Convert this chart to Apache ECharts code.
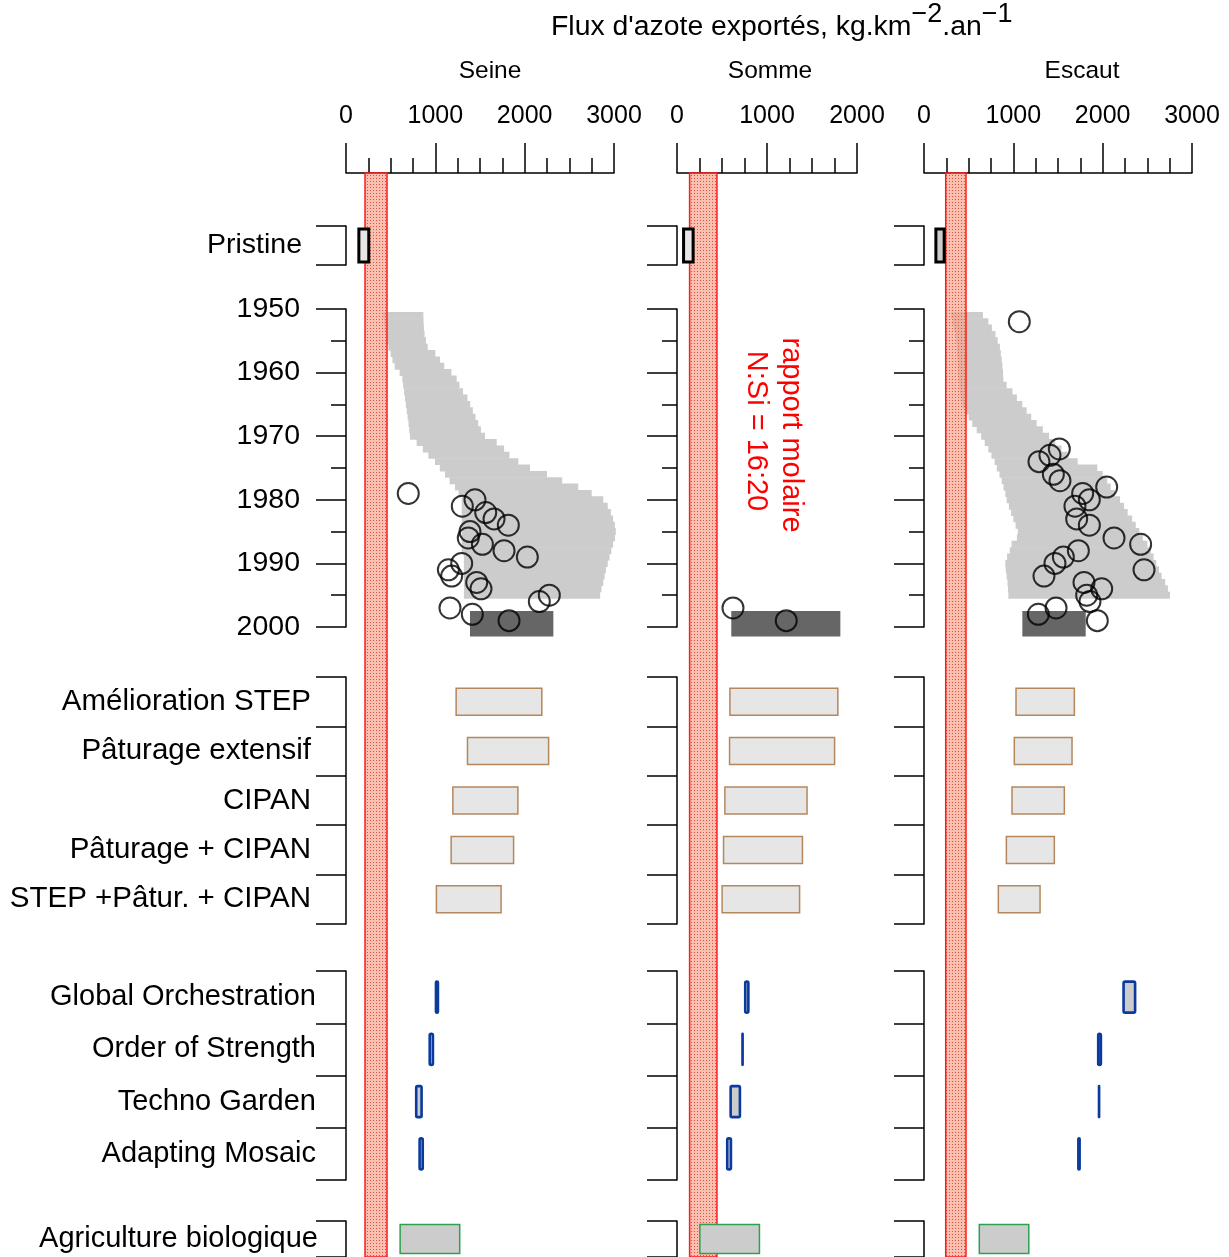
<!DOCTYPE html>
<html><head><meta charset="utf-8">
<script src="https://cdn.jsdelivr.net/npm/echarts@6/dist/echarts.min.js"></script>
<style>html,body{margin:0;padding:0;background:#fff}#c{width:1229px;height:1257px}</style>
</head><body><div id="c"></div><script>
const FONT = "'Liberation Sans', Arial, Helvetica, sans-serif";

// ---- categories / labels ----
const basinNames = ['Seine', 'Somme', 'Escaut'];
const pristineCats = ['Pristine'];
const scen1Cats = ['Amélioration STEP', 'Pâturage extensif', 'CIPAN', 'Pâturage + CIPAN', 'STEP +Pâtur. + CIPAN'];
const scen2Cats = ['Global Orchestration', 'Order of Strength', 'Techno Garden', 'Adapting Mosaic'];
const abCats = ['Agriculture biologique'];
const bandText1 = 'rapport molaire';
const bandText2 = 'N:Si = 16:20';

// ---- years of the modelled envelope ----
const areaYears = [1951,1952,1953,1954,1955,1956,1957,1958,1959,1960,1961,1962,1963,1964,1965,1966,1967,1968,1969,1970,
  1971,1972,1973,1974,1975,1976,1977,1978,1979,1980,1981,1982,1983,1984,1985,1986,1987,1988,1989,1990,1991,1992,1993,1994,1995];

// ---- Seine ----
const seinePristine = [144, 255];
const seineBand = [213, 459];
const seineAreaLo = [418,425,432,445,460,475,500,520,545,600,630,640,650,660,670,680,690,700,708,716,
  791,860,922,996,1050,1108,1160,1220,1260,1295,1295,1295,1295,1295,1295,1295,1295,1295,1320,1320,1320,1320,1320,1320,1320];
const seineAreaHi = [866,868,872,880,895,915,1000,1052,1100,1180,1239,1270,1310,1360,1390,1420,1450,1480,1510,1556,
  1687,1770,1830,1929,2060,2250,2420,2600,2750,2880,2930,2965,2990,3010,3020,3010,2990,2970,2950,2930,2910,2895,2880,2860,2845];
const seineObsYears = [1979,1980,1981,1982,1983,1984,1985,1986,1987,1988,1989,1990,1991,1992,1993,1994,1995,1996,1997,1998,1999];
const seineObsVals = [697,1444,1302,1564,1657,1817,1388,1369,1527,1769,2030,1295,1146,1183,1463,1511,2276,2164,1164,1414,1825];
const seineRecent = [1388, 2321];
const seineScen1Lo = [1233,1360,1196,1177,1012];
const seineScen1Hi = [2192,2268,1924,1876,1736];
const seineScen2Lo = [1007,937,786,824];
const seineScen2Hi = [1029,973,846,859];
const seineBio = [606, 1273];

// ---- Somme ----
const sommePristine = [73, 179];
const sommeBand = [140, 444];
const sommeObsYears = [1997, 1999];
const sommeObsVals = [622, 1214];
const sommeRecent = [603, 1815];
const sommeScen1Lo = [588,584,532,517,501];
const sommeScen1Hi = [1787,1751,1445,1394,1362];
const sommeScen2Lo = [758,728,596,558];
const sommeScen2Hi = [793,729,699,599];
const sommeBio = [254, 916];

// ---- Escaut ----
const escautPristine = [133, 226];
const escautBand = [243, 470];
const escautAreaLo = [302,320,335,350,360,365,370,375,380,385,390,395,400,410,430,460,500,540,590,640,
  680,720,755,790,815,845,870,890,910,925,950,975,1000,1025,1050,1040,980,960,930,910,915,925,935,940,944];
const escautAreaHi = [660,720,760,800,825,850,860,870,878,885,888,925,990,1040,1100,1149,1200,1261,1330,1400,
  1470,1540,1620,1720,1940,2000,2050,2090,2140,2194,2240,2280,2330,2370,2410,2450,2500,2540,2570,2600,2630,2660,2700,2730,2754];
const escautObsYears = [1952,1972,1973,1974,1976,1977,1978,1979,1980,1981,1983,1984,1986,1987,1988,1989,1990,1991,1992,1993,1994,1995,1996,1997,1998,1999];
const escautObsVals = [1067,1515,1410,1287,1448,1522,2045,1776,1851,1690,1709,1851,2127,2425,1728,1560,1466,2463,1343,1791,1989,1821,1858,1478,1280,1940];
const escautRecent = [1101, 1810];
const escautScen1Lo = [1030,1011,985,922,832];
const escautScen1Hi = [1683,1657,1571,1459,1299];
const escautScen2Lo = [2234,1950,1959,1728];
const escautScen2Hi = [2363,1980,1960,1742];
const escautBio = [619, 1173];

const recentYears = [1997.5, 2001.5];

// ---- layout (positions/styles only) ----
const columns = [
  {name: basinNames[0], x0: 346, x1: 614, max: 3000, labels: true, titleX: 490,
   pristine: seinePristine, pristineFill: '#e6e6e6', band: seineBand,
   areaLo: seineAreaLo, areaHi: seineAreaHi, obsY: seineObsYears, obsV: seineObsVals, recent: seineRecent,
   s1Lo: seineScen1Lo, s1Hi: seineScen1Hi, s2Lo: seineScen2Lo, s2Hi: seineScen2Hi, bio: seineBio},
  {name: basinNames[1], x0: 677, x1: 857, max: 2000, labels: false, titleX: 770,
   pristine: sommePristine, pristineFill: '#e6e6e6', band: sommeBand,
   areaLo: null, areaHi: null, obsY: sommeObsYears, obsV: sommeObsVals, recent: sommeRecent,
   s1Lo: sommeScen1Lo, s1Hi: sommeScen1Hi, s2Lo: sommeScen2Lo, s2Hi: sommeScen2Hi, bio: sommeBio},
  {name: basinNames[2], x0: 924, x1: 1192, max: 3000, labels: false, titleX: 1082,
   pristine: escautPristine, pristineFill: '#cccccc', band: escautBand,
   areaLo: escautAreaLo, areaHi: escautAreaHi, obsY: escautObsYears, obsV: escautObsVals, recent: escautRecent,
   s1Lo: escautScen1Lo, s1Hi: escautScen1Hi, s2Lo: escautScen2Lo, s2Hi: escautScen2Hi, bio: escautBio}
];

const sections = {
  pristine: {top: 226, height: 39, margin: 44, font: 28.5},
  years: {top: 309, height: 318, margin: 46, font: 28.5},
  scen1: {top: 677, height: 247, margin: 35, font: 29.5},
  scen2: {top: 971, height: 209, margin: 30, font: 29},
  bio: {top: 1221, height: 39, margin: 28, font: 29}
};

// band pattern
const pat = document.createElement('canvas');
pat.width = 3; pat.height = 3;
(function(){
  const c = pat.getContext('2d');
  c.fillStyle = 'rgba(246,160,138,0.68)';
  c.fillRect(0, 0, 3, 3);
  c.fillStyle = 'rgba(226,66,46,0.9)';
  c.fillRect(1, 1, 1, 1);
})();

const LINE = {color: '#000', width: 1.5};
const plain = v => String(v);
const grids = [], xAxes = [], yAxes = [], series = [];

function addGrid(col, top, height) {
  grids.push({left: col.x0, width: col.x1 - col.x0, top: top, height: height});
  return grids.length - 1;
}
function hiddenX(gi, col) {
  xAxes.push({gridIndex: gi, type: 'value', min: 0, max: col.max, show: false});
}
function catY(gi, col, cats, sec) {
  yAxes.push({gridIndex: gi, type: 'category', data: cats, inverse: true, boundaryGap: true,
    axisLine: {show: true, onZero: false, lineStyle: LINE},
    axisTick: {show: true, length: 30, alignWithLabel: false, interval: 0, lineStyle: LINE},
    axisLabel: {show: col.labels, interval: 0, margin: sec.margin, fontSize: sec.font, color: '#000', fontFamily: FONT},
    splitLine: {show: false}});
}
function boxRender(h, style) {
  return function (params, api) {
    const lo = api.value(0), hi = api.value(1), c = api.value(2);
    const p1 = api.coord([lo, c]), p2 = api.coord([hi, c]);
    return {type: 'rect',
      shape: {x: p1[0], y: p1[1] - h / 2, width: Math.max(p2[0] - p1[0], 0.01), height: h, r: style.r || 0},
      style: {fill: style.fill, stroke: style.stroke, lineWidth: style.lineWidth}};
  };
}
function boxSeries(gi, lo, hi, h, style) {
  series.push({type: 'custom', xAxisIndex: gi, yAxisIndex: gi, z: 4, silent: true, clip: false,
    encode: {x: [0, 1], y: 2},
    data: lo.map((v, i) => [v, hi[i], i]),
    renderItem: boxRender(h, style)});
}

columns.forEach(col => {
  // top axis + N:Si band
  let gi = addGrid(col, 173, 1110);
  xAxes.push({gridIndex: gi, type: 'value', position: 'top', min: 0, max: col.max, interval: 1000,
    axisLine: {show: true, onZero: false, lineStyle: LINE},
    axisTick: {show: true, length: 30, lineStyle: LINE},
    minorTick: {show: true, splitNumber: 4, length: 15, lineStyle: LINE},
    splitLine: {show: false}, minorSplitLine: {show: false},
    axisLabel: {fontSize: 25, color: '#000', margin: 44, fontFamily: FONT, formatter: plain}});
  yAxes.push({gridIndex: gi, type: 'value', min: 0, max: 1, show: false});
  series.push({type: 'custom', xAxisIndex: gi, yAxisIndex: gi, z: 2, silent: true, clip: false,
    encode: {x: [0, 1]},
    data: [[col.band[0], col.band[1]]],
    renderItem: function (params, api) {
      const a = api.coord([api.value(0), 1]), b = api.coord([api.value(1), 0]);
      return {type: 'rect', shape: {x: a[0], y: a[1], width: b[0] - a[0], height: b[1] - a[1]},
        style: {fill: {image: pat, repeat: 'repeat'}, stroke: '#ff1a1a', lineWidth: 1.5}};
    }});

  // pristine
  gi = addGrid(col, sections.pristine.top, sections.pristine.height);
  hiddenX(gi, col);
  catY(gi, col, pristineCats, sections.pristine);
  boxSeries(gi, [col.pristine[0]], [col.pristine[1]], 33, {fill: col.pristineFill, stroke: '#000', lineWidth: 3});

  // years
  gi = addGrid(col, sections.years.top, sections.years.height);
  hiddenX(gi, col);
  yAxes.push({gridIndex: gi, type: 'value', min: 1950, max: 2000, interval: 10, inverse: true,
    axisLine: {show: true, onZero: false, lineStyle: LINE},
    axisTick: {show: true, length: 30, lineStyle: LINE},
    minorTick: {show: true, splitNumber: 2, length: 15, lineStyle: LINE},
    splitLine: {show: false}, minorSplitLine: {show: false},
    axisLabel: {show: col.labels, margin: sections.years.margin, fontSize: sections.years.font, color: '#000',
      fontFamily: FONT, formatter: plain}});
  if (col.areaLo) {
    series.push({type: 'custom', xAxisIndex: gi, yAxisIndex: gi, z: 1, silent: true, clip: false,
      encode: {x: [1, 2], y: 0},
      data: areaYears.map((y, i) => [y, col.areaLo[i], col.areaHi[i]]),
      renderItem: function (params, api) {
        const y = api.value(0);
        const a = api.coord([api.value(1), y - 0.5]), b = api.coord([api.value(2), y + 0.5]);
        const top = Math.min(a[1], b[1]);
        return {type: 'rect', shape: {x: a[0], y: top - 0.3, width: b[0] - a[0], height: Math.abs(b[1] - a[1]) + 0.6},
          style: {fill: '#cccccc'}};
      }});
  }
  series.push({type: 'custom', xAxisIndex: gi, yAxisIndex: gi, z: 3, silent: true, clip: false,
    encode: {x: [0, 1], y: [2, 3]},
    data: [[col.recent[0], col.recent[1], recentYears[0], recentYears[1]]],
    renderItem: function (params, api) {
      const a = api.coord([api.value(0), api.value(2)]), b = api.coord([api.value(1), api.value(3)]);
      return {type: 'rect', shape: {x: a[0], y: Math.min(a[1], b[1]), width: b[0] - a[0], height: Math.abs(b[1] - a[1])},
        style: {fill: '#666666'}};
    }});
  series.push({type: 'scatter', xAxisIndex: gi, yAxisIndex: gi, z: 5, silent: true,
    symbol: 'circle', symbolSize: 21,
    itemStyle: {color: 'rgba(0,0,0,0)', borderColor: '#000', borderWidth: 2},
    data: col.obsY.map((y, i) => [col.obsV[i], y])});

  // scenarios 1
  gi = addGrid(col, sections.scen1.top, sections.scen1.height);
  hiddenX(gi, col);
  catY(gi, col, scen1Cats, sections.scen1);
  boxSeries(gi, col.s1Lo, col.s1Hi, 27, {fill: '#e6e6e6', stroke: '#b5875c', lineWidth: 1.5});

  // scenarios 2
  gi = addGrid(col, sections.scen2.top, sections.scen2.height);
  hiddenX(gi, col);
  catY(gi, col, scen2Cats, sections.scen2);
  boxSeries(gi, col.s2Lo, col.s2Hi, 31, {fill: '#cccccc', stroke: '#0a3a9e', lineWidth: 2.6, r: 1.5});

  // agriculture biologique
  gi = addGrid(col, sections.bio.top, sections.bio.height);
  hiddenX(gi, col);
  catY(gi, col, abCats, sections.bio);
  boxSeries(gi, [col.bio[0]], [col.bio[1]], 29, {fill: '#cccccc', stroke: '#2ca24e', lineWidth: 1.5});
});

const graphic = [
  {type: 'text', x: 551, y: 1, z: 10, silent: true,
   style: {text: "{m|Flux d'azote exportés, kg.km}{s|\u22122}{m|.an}{s|\u22121}", align: 'left', verticalAlign: 'top',
     rich: {m: {fontSize: 28.4, fontFamily: FONT, fill: '#000', lineHeight: 52, verticalAlign: 'middle'},
            s: {fontSize: 27, fontFamily: FONT, fill: '#000', lineHeight: 26, verticalAlign: 'top'}}}},
  {type: 'text', x: 790.5, y: 435, rotation: -Math.PI / 2, z: 10, silent: true,
   style: {text: bandText1, fontSize: 29, fontFamily: FONT, fill: '#ff0000', align: 'center', verticalAlign: 'middle'}},
  {type: 'text', x: 755.5, y: 431, rotation: -Math.PI / 2, z: 10, silent: true,
   style: {text: bandText2, fontSize: 29, fontFamily: FONT, fill: '#ff0000', align: 'center', verticalAlign: 'middle'}}
];
columns.forEach(col => {
  graphic.push({type: 'text', x: col.titleX, y: 71, z: 10, silent: true,
    style: {text: col.name, fontSize: 24.5, fontFamily: FONT, fill: '#000', align: 'center', verticalAlign: 'middle'}});
});

const chart = echarts.init(document.getElementById('c'), null, {renderer: 'canvas'});
chart.setOption({
  animation: false,
  backgroundColor: '#ffffff',
  grid: grids, xAxis: xAxes, yAxis: yAxes, series: series, graphic: graphic
});
</script></body></html>
